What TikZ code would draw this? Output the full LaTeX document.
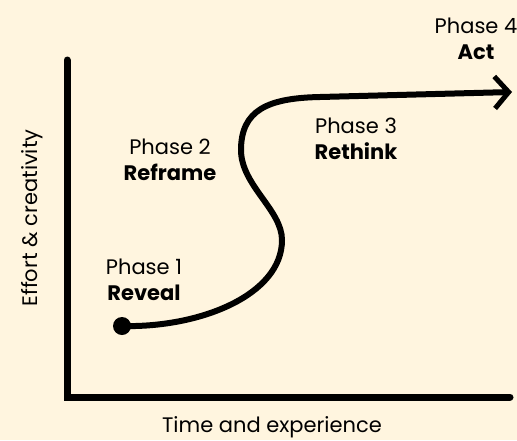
\documentclass[tikz,border=0pt]{standalone}
\usepackage{fontspec}
\setmainfont{Poppins}
\usetikzlibrary{arrows.meta}
\definecolor{bgcream}{HTML}{FFF5DF}
\tikzset{
  axisline/.style={line width=7pt, line cap=round},
  pathline/.style={line width=6pt},
  label/.style={font=\fontsize{21}{26}\selectfont, align=center, inner sep=0pt},
}
\begin{document}
\begin{tikzpicture}[x=1pt,y=-1pt]
\fill[bgcream] (0,0) rectangle (517,440);
\useasboundingbox (0,0) rectangle (517,440);
% axes
\coordinate (ytop) at (67,60);
\coordinate (origin) at (67,397);
\coordinate (xend) at (510,397);
\draw[axisline] (ytop) -- (origin) -- (xend);
% curve
\node[circle, fill=black, minimum size=18pt, inner sep=0pt] (start) at (122,326) {};
\coordinate (b1) at (282,240);
\coordinate (b2) at (241,150);
\coordinate (b3) at (320,97);
\coordinate (tip) at (512,92);
\draw[pathline, -{Straight Barb[length=14pt,width=32pt,line width=5pt]}]
  (start.center) .. controls (200,328) and (282,295) .. (b1)
  .. controls (282,210) and (241,185) .. (b2)
  .. controls (241,110) and (268,98) .. (b3) -- (tip);
% labels
\node[label] (p1) at (144,280) {Phase 1\\\textbf{Reveal}};
\node[label] (p2) at (170,160) {Phase 2\\\textbf{Reframe}};
\node[label] (p3) at (356,139) {Phase 3\\\textbf{Rethink}};
\node[label] (p4) at (476,39) {Phase 4\\\textbf{Act}};
\node[label] (xlab) at (272,427) {Time and experience};
\node[label, rotate=90] (ylab) at (32,218) {Effort \& creativity};
\end{tikzpicture}
\end{document}
